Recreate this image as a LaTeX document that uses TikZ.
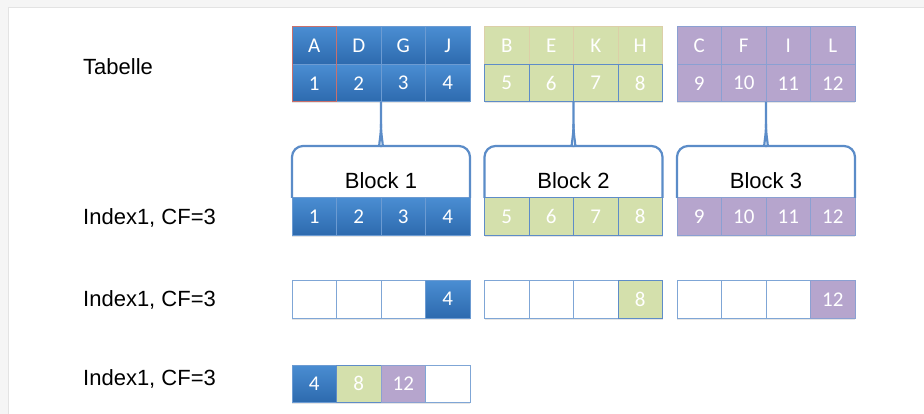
\documentclass[tikz,border=0pt]{standalone}
\usepackage{fontspec}
\setmainfont{Liberation Sans}
\newfontfamily\cellfont{Carlito}
\usetikzlibrary{positioning}
\usetikzlibrary{shadows}
\definecolor{blueTop}{HTML}{4A8DD2}
\definecolor{blueBot}{HTML}{2D6AAE}
\definecolor{blueLine}{HTML}{6C9BD2}
\definecolor{greenFill}{HTML}{D4E0AC}
\definecolor{greenLine}{HTML}{5E8CC8}
\definecolor{greenTopLine}{HTML}{DCCFA8}
\definecolor{purpleFill}{HTML}{B6A5CD}
\definecolor{purpleLine}{HTML}{8BA0D2}
\definecolor{emptyLine}{HTML}{7FA6D6}
\definecolor{braceLine}{HTML}{5B8CC8}
\definecolor{redLine}{HTML}{C9706C}
\tikzset{x=1pt, y=-1pt,
    cell/.style={
        draw,
        line width=1pt,
        minimum width=44.5pt,
        minimum height=37.5pt,
        inner sep=0pt, outer sep=0pt,
        anchor=north west,
        text=white,
        font=\cellfont\fontsize{21}{21}\selectfont,
        drop shadow={opacity=0.2, shadow xshift=0pt, shadow yshift=-1.5pt}},
    blueCell/.style={cell, draw=blueLine, top color=blueTop, bottom color=blueBot},
    greenCell/.style={cell, draw=greenLine, fill=greenFill},
    purpleCell/.style={cell, draw=purpleLine, fill=purpleFill},
    emptyCell/.style={cell, draw=emptyLine, fill=white},
    rowlabel/.style={anchor=west, inner sep=0pt,
        font=\fontsize{22}{22}\selectfont},
    blocklabel/.style={inner sep=0pt,
        font=\fontsize{22}{22}\selectfont},
    brace/.style={draw=braceLine, line width=2.2pt}}

\begin{document}
\begin{tikzpicture}
    \useasboundingbox (0,0) rectangle (924,414);
    % slide
    \fill[gray!8] (0,0) rectangle (924,414);
    \fill[white, drop shadow={opacity=0.15, shadow xshift=-1pt, shadow yshift=1pt}] (9,8) rectangle (934,424);

    \node[rowlabel] (tab) at (83,67) {Tabelle};
    \node[rowlabel] (ix1) at (83,218) {Index1, CF=3};
    \node[rowlabel] (ix2) at (83,300) {Index1, CF=3};
    \node[rowlabel] (ix3) at (83,379) {Index1, CF=3};

    \foreach \blk/\sty/\topl/\ltrs in {0/blueCell/blueLine/{A,D,G,J},
            1/greenCell/greenTopLine/{B,E,K,H},
            2/purpleCell/purpleLine/{C,F,I,L}} {
        \foreach \ltr [count=\pos from 0] in \ltrs {
            \pgfmathsetmacro\xx{292+192.5*\blk+44.5*\pos}
            \node[\sty, draw=\topl] (t\blk\pos) at (\xx,27) {\ltr};
        }
        \foreach \pos in {0,...,3} {
            \pgfmathsetmacro\xx{292+192.5*\blk+44.5*\pos}
            \pgfmathtruncatemacro\num{4*\blk+\pos+1}
            \node[\sty] (n\blk\pos) at (\xx,64.5) {\num};
        }
        \foreach \pos in {0,...,3} {
            \pgfmathsetmacro\xx{292+192.5*\blk+44.5*\pos}
            \pgfmathtruncatemacro\num{4*\blk+\pos+1}
            \node[\sty] (i\blk\pos) at (\xx,198) {\num};
        }
        % only the last key of each block is kept
        \foreach \pos in {0,...,3} {
            \pgfmathsetmacro\xx{292+192.5*\blk+44.5*\pos}
            \pgfmathtruncatemacro\num{4*\blk+\pos+1}
            \ifnum\pos<3
                \node[emptyCell] (s\blk\pos) at (\xx,280.5) {};
            \else
                \node[\sty] (s\blk\pos) at (\xx,280.5) {\num};
            \fi
        }
    }
    \draw[redLine, line width=1pt] (t00.north west) rectangle (n00.south east);

    \foreach \sty/\num [count=\pos from 0] in {blueCell/4, greenCell/8, purpleCell/12, emptyCell/{}}
        \node[\sty] (c\pos) at ({292+44.5*\pos},365) {\num};

    % braces from table rows down to the blocks
    \foreach \blk in {0,1,2} {
        \pgfmathtruncatemacro\bn{\blk+1}
        \coordinate (h\blk) at (n\blk1.south east |- 0,146);
        \draw[brace] (i\blk0.north west) [rounded corners=11pt] |- ([xshift=-12pt]h\blk)
            [sharp corners] .. controls ([xshift=-3pt]h\blk) and ([yshift=7pt]h\blk) .. ([yshift=22pt]h\blk)
            -- (n\blk1.south east);
        \draw[brace] (i\blk3.north east) [rounded corners=11pt] |- ([xshift=12pt]h\blk)
            [sharp corners] .. controls ([xshift=3pt]h\blk) and ([yshift=7pt]h\blk) .. ([yshift=22pt]h\blk);
        \node[blocklabel, above=9pt of i\blk1.north east] (b\blk) {Block \bn};
    }
\end{tikzpicture}
\end{document}
